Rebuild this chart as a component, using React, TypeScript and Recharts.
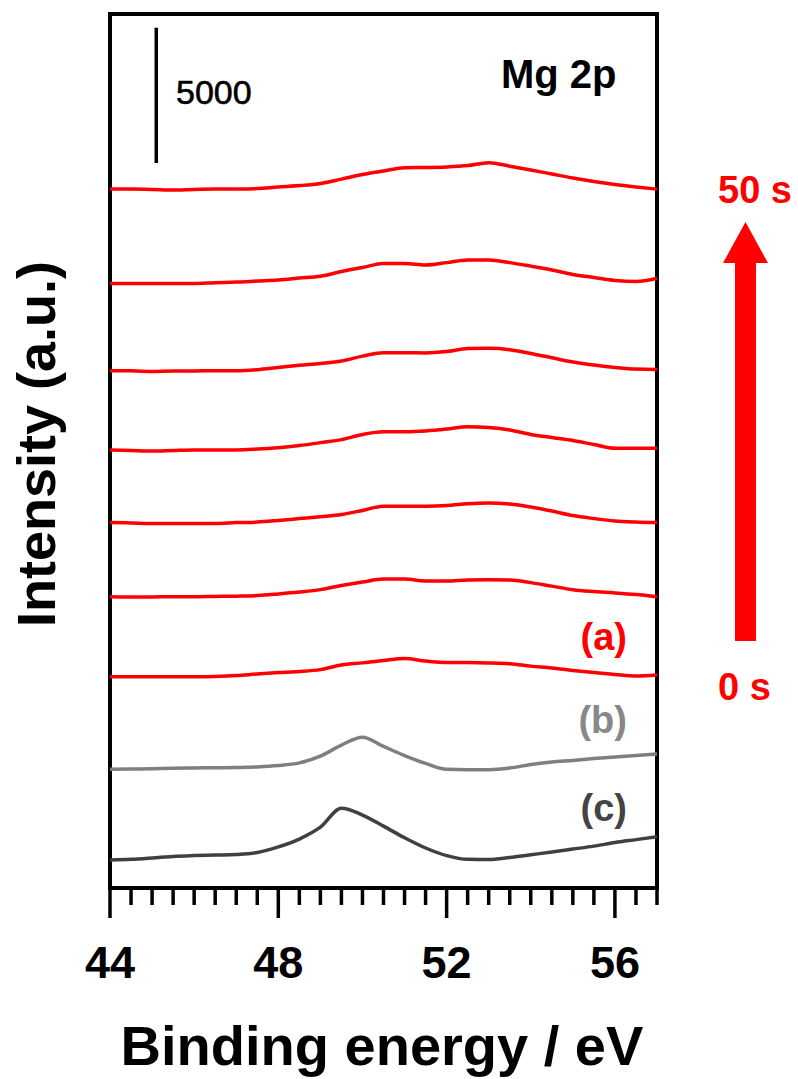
import React from "react"
import { LineChart, Line, XAxis, YAxis, ReferenceArea, ReferenceLine } from "recharts"

// binding energy grid (eV)
const energies = [
  44, 44.5, 45, 45.5, 46, 46.5, 47, 47.5, 48, 48.5, 49, 49.5, 50, 50.5, 51, 51.5, 52, 52.5, 53, 53.5, 54, 54.5, 55,
  55.5, 56, 56.5, 57,
]

// stacked Mg 2p spectra (counts, offsets already applied), top = 50 s
const red50s = [
  25860, 25860, 25850, 25830, 25850, 25860, 25860, 25880, 25940, 25990, 26070, 26230, 26400, 26530, 26650, 26660, 26680,
  26730, 26840, 26710, 26570, 26420, 26270, 26140, 26030, 25940, 25860,
]
const red40s = [
  22370, 22370, 22370, 22370, 22370, 22400, 22420, 22460, 22500, 22570, 22640, 22810, 22960, 23110, 23110, 23050, 23140,
  23240, 23240, 23140, 23010, 22870, 22700, 22590, 22480, 22440, 22560,
]
const red30s = [
  19140, 19140, 19110, 19130, 19130, 19140, 19140, 19180, 19260, 19340, 19410, 19500, 19680, 19810, 19810, 19800, 19850,
  19960, 19970, 19920, 19780, 19620, 19460, 19350, 19260, 19200, 19190,
]
const red20s = [
  16210, 16190, 16170, 16190, 16210, 16210, 16210, 16240, 16290, 16370, 16480, 16590, 16780, 16880, 16880, 16910, 16980,
  17070, 17040, 16950, 16780, 16670, 16560, 16410, 16270, 16270, 16270,
]
const red10s = [
  13520, 13510, 13490, 13490, 13490, 13490, 13520, 13540, 13600, 13670, 13740, 13820, 13970, 14130, 14130, 14130, 14150,
  14220, 14250, 14210, 14100, 13950, 13780, 13670, 13580, 13540, 13520,
]
const red5s = [
  10780, 10770, 10770, 10780, 10780, 10790, 10800, 10820, 10880, 10950, 11040, 11190, 11320, 11430, 11430, 11360, 11360,
  11400, 11410, 11400, 11300, 11170, 11040, 10970, 10920, 10860, 10780,
]
const red0s = [
  7820, 7820, 7820, 7820, 7820, 7830, 7860, 7920, 7970, 8010, 8080, 8250, 8330, 8420, 8490, 8400, 8340, 8340, 8330, 8300,
  8210, 8140, 8050, 7970, 7900, 7840, 7880,
]
const specB = [
  4390, 4400, 4410, 4430, 4440, 4450, 4460, 4480, 4530, 4630, 4880, 5290, 5580, 5240, 4900, 4610, 4390, 4380, 4380, 4440,
  4570, 4660, 4720, 4790, 4850, 4900, 4960,
]
const specC = [
  1040, 1060, 1110, 1170, 1200, 1220, 1240, 1310, 1520, 1810, 2250, 2950, 2700, 2290, 1860, 1480, 1200, 1060, 1050, 1130,
  1230, 1330, 1440, 1550, 1680, 1790, 1900,
]

const tickValues = energies
const majorTicks = [44, 48, 52, 56]

const Y_MAX = 32340
const SCALE_BAR_X = 45.1
const SCALE_BAR_Y0 = 26830
const SCALE_BAR_LEN = 5000

const RED = "#FF0000"
const FONT = "'Liberation Sans', Arial, sans-serif"

const series = [
  { key: "s50", values: red50s, color: RED },
  { key: "s40", values: red40s, color: RED },
  { key: "s30", values: red30s, color: RED },
  { key: "s20", values: red20s, color: RED },
  { key: "s10", values: red10s, color: RED },
  { key: "s5", values: red5s, color: RED },
  { key: "s0", values: red0s, color: RED },
  { key: "b", values: specB, color: "#7f7f7f" },
  { key: "c", values: specC, color: "#404040" },
]

const data = energies.map((e, i) => {
  const row: Record<string, number> = { e }
  series.forEach((s) => {
    row[s.key] = s.values[i]
  })
  return row
})

const renderTick = (props: any) => {
  const { x, y, payload } = props
  const major = majorTicks.includes(payload.value)
  return (
    <g>
      <line x1={x} x2={x} y1={y} y2={y + (major ? 30 : 17)} stroke="#000" strokeWidth={3.5} />
      {major && (
        <text x={x} y={y + 90} textAnchor="middle" fontSize={45} fontWeight="bold" fontFamily={FONT} fill="#000">
          {payload.value}
        </text>
      )}
    </g>
  )
}

export default function App() {
  return (
    <div style={{ position: "absolute", left: 0, top: 0, width: 798, height: 1079, background: "#fff" }}>
      <LineChart width={798} height={1079} data={data} margin={{ top: 14, right: 141, bottom: 0, left: 110 }}>
        <XAxis
          dataKey="e"
          type="number"
          domain={[44, 57]}
          ticks={tickValues}
          interval={0}
          height={191}
          axisLine={false}
          tickLine={false}
          tickSize={0}
          tickMargin={0}
          tick={renderTick}
        />
        <YAxis hide type="number" domain={[0, Y_MAX]} />
        <ReferenceArea
          x1={44}
          x2={57}
          y1={0}
          y2={Y_MAX}
          fill="none"
          fillOpacity={0}
          stroke="#000"
          strokeWidth={4}
          strokeOpacity={1}
          ifOverflow="visible"
        />
        <ReferenceLine
          segment={[
            { x: SCALE_BAR_X, y: SCALE_BAR_Y0 },
            { x: SCALE_BAR_X, y: SCALE_BAR_Y0 + SCALE_BAR_LEN },
          ]}
          stroke="#000"
          strokeWidth={3.5}
          ifOverflow="visible"
        />
        {series.map((s) => (
          <Line
            key={s.key}
            type="monotone"
            dataKey={s.key}
            stroke={s.color}
            strokeWidth={3.5}
            dot={false}
            isAnimationActive={false}
          />
        ))}
      </LineChart>

      {/* annotations */}
      <svg
        width={798}
        height={1079}
        style={{ position: "absolute", left: 0, top: 0, pointerEvents: "none" }}
        fontFamily={FONT}
      >
        <text x={176} y={104} fontSize={34} fill="#000" stroke="#000" strokeWidth={0.6}>
          {SCALE_BAR_LEN}
        </text>
        <text x={501} y={88} fontSize={40} fontWeight="bold" fill="#000">
          Mg 2p
        </text>
        <text x={627} y={650} fontSize={38} fontWeight="bold" fill={RED} textAnchor="end">
          (a)
        </text>
        <text x={627} y={733} fontSize={38} fontWeight="bold" fill="#888888" textAnchor="end">
          (b)
        </text>
        <text x={627} y={821} fontSize={38} fontWeight="bold" fill="#444444" textAnchor="end">
          (c)
        </text>

        <text x={718} y={203} fontSize={38} fontWeight="bold" fill={RED}>
          50 s
        </text>
        <text x={718} y={700} fontSize={38} fontWeight="bold" fill={RED}>
          0 s
        </text>
        <rect x={735} y={260} width={21} height={381} fill={RED} />
        <polygon points="723,263 768,263 745.5,222" fill={RED} />

        <text
          x={55}
          y={444}
          fontSize={54}
          fontWeight="bold"
          fill="#000"
          textAnchor="middle"
          transform="rotate(-90 55 444)"
        >
          Intensity (a.u.)
        </text>
        <text x={382} y={1065} fontSize={56} fontWeight="bold" fill="#000" textAnchor="middle">
          Binding energy / eV
        </text>
      </svg>
    </div>
  )
}
